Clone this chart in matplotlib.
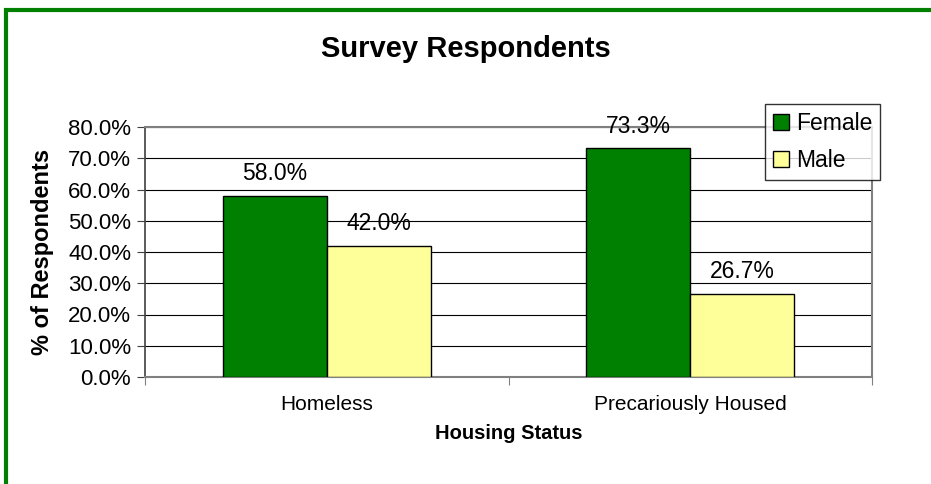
import matplotlib
matplotlib.use("Agg")
import matplotlib.pyplot as plt
from matplotlib.patches import Rectangle
import numpy as np

categories = ["Homeless", "Precariously Housed"]
female = [58.0, 73.3]
male = [42.0, 26.7]
yticks = [0, 10, 20, 30, 40, 50, 60, 70, 80]

plt.rcParams['font.family'] = ['Liberation Sans', 'DejaVu Sans']

W, H = 931, 484
fig = plt.figure(figsize=(W/100, H/100), dpi=100)
ax = fig.add_axes([145/W, 1-377/H, (872-145)/W, (377-127)/H])

x = np.arange(len(categories))
bw = 0.286
b1 = ax.bar(x - bw/2, female, bw, color="#008000", edgecolor="black", linewidth=1, label="Female", zorder=3)
b2 = ax.bar(x + bw/2, male, bw, color="#FFFF99", edgecolor="black", linewidth=1, label="Male", zorder=3)

for rect, v in list(zip(b1, female)) + list(zip(b2, male)):
    ax.text(rect.get_x() + rect.get_width()/2, v + 7.0, f"{v:.1f}%", ha="center", va="center", fontsize=16.5)

ax.set_xlim(-0.5, 1.5)
ax.set_ylim(0, 80)
ax.set_yticks(yticks)
ax.set_yticklabels([f"{t:.1f}%" for t in yticks], fontsize=16)
ax.set_xticks([-0.5, 0.5, 1.5])
ax.set_xticklabels([])
ax.set_xticks(x, minor=True)
ax.set_xticklabels(categories, minor=True, fontsize=15)
ax.tick_params(axis='x', which='minor', length=0, pad=13)
ax.tick_params(axis='x', which='major', length=6, color="#808080", direction='out')
ax.tick_params(axis='y', length=6, color="#404040", direction='out', pad=4)

ax.yaxis.grid(True, color="black", linewidth=0.8, zorder=0)
ax.set_axisbelow(True)
for s in ["top", "right"]:
    ax.spines[s].set_color("#808080")
    ax.spines[s].set_linewidth(1.5)
ax.spines["left"].set_color("#404040")
ax.spines["bottom"].set_color("#808080")
ax.spines["left"].set_linewidth(1.2)
ax.spines["bottom"].set_linewidth(1.5)

ax.set_xlabel("Housing Status", fontsize=14.5, fontweight="bold")
ax.xaxis.set_label_coords(0.5, -(424-377)/250)
ax.set_ylabel("% of Respondents", fontsize=17, fontweight="bold")
ax.yaxis.set_label_coords(-(145-54)/727, 0.5)

fig.text(0.5, 1-49/H, "Survey Respondents", ha="center", va="center", fontsize=21, fontweight="bold")

leg = ax.legend(loc="upper left", bbox_to_anchor=((765-145)/727, (377-104)/250),
                fontsize=16.5, frameon=True, fancybox=False, edgecolor="black",
                handlelength=0.7, handleheight=0.7, handletextpad=0.3, borderpad=0.35,
                labelspacing=0.6, borderaxespad=0)
leg.get_frame().set_linewidth(1.0)
leg.set_zorder(5)

fig.patches.append(Rectangle((6/W, -1), 2, 1-10/H + 1, transform=fig.transFigure,
                             fill=False, edgecolor="#008000", linewidth=3, figure=fig))

fig.savefig("out.png", dpi=100)
